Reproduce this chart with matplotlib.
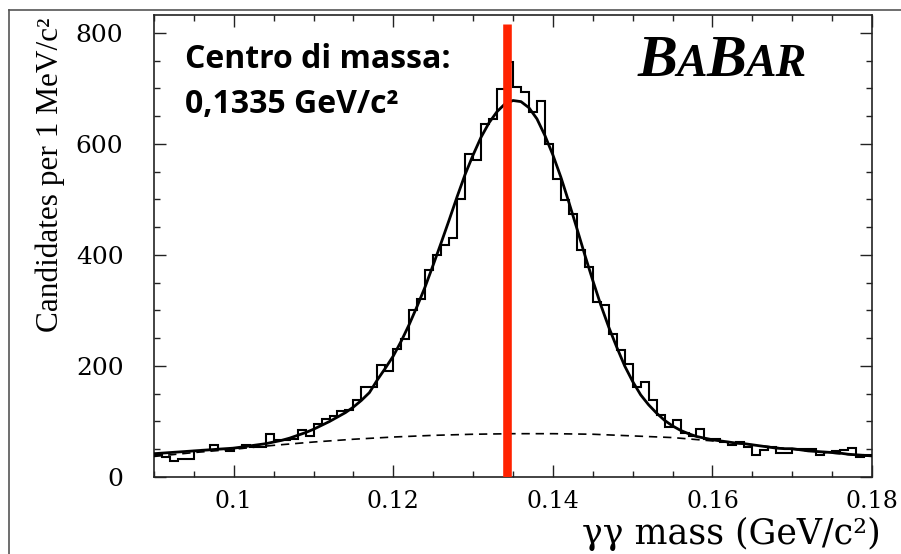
import numpy as np
import matplotlib
matplotlib.use("Agg")
import matplotlib.pyplot as plt
from matplotlib.lines import Line2D
from matplotlib.ticker import MultipleLocator, FixedLocator, FixedFormatter

# ---------------- data ----------------
mass_lo = 0.090          # GeV/c^2, first bin edge
bin_width = 0.001        # 1 MeV bins
counts = [40, 36, 28, 33, 33, 46, 48, 57, 50, 46,
          52, 58, 54, 54, 78, 66, 66, 69, 84, 74,
          96, 104, 110, 119, 120, 138, 162, 162, 202, 190,
          231, 249, 301, 321, 372, 399, 417, 430, 501, 582,
          570, 636, 645, 699, 748, 702, 694, 657, 678, 600,
          536, 498, 474, 408, 378, 315, 309, 258, 228, 204,
          162, 171, 138, 111, 90, 102, 80, 73, 87, 68,
          68, 63, 57, 63, 54, 40, 48, 54, 44, 44,
          51, 50, 50, 40, 45, 46, 48, 52, 36, 39]

# total fit curve, sampled every 1 MeV from 0.090 to 0.180
fit_vals = [42, 43, 44, 45, 46, 47, 48, 49, 50, 51,
            52, 54, 56, 58, 60, 63, 66, 70, 75, 80,
            86, 93, 100, 108, 116, 126, 138, 152, 175, 196,
            218, 245, 275, 308, 343, 382, 422, 463, 505, 545,
            580, 612, 638, 658, 672, 678, 676, 665, 645, 615,
            580, 540, 495, 448, 400, 354, 310, 270, 234, 200,
            172, 148, 130, 115, 102, 92, 84, 78, 73, 70,
            67, 65, 63, 61, 60, 58, 56, 54, 52, 51,
            51, 49, 47, 46, 45, 44, 43, 41, 40, 39, 38]

# background (dashed) curve, sampled every 5 MeV
bkg_x = [0.090, 0.095, 0.100, 0.105, 0.110, 0.115, 0.120, 0.125, 0.130, 0.135,
         0.140, 0.145, 0.150, 0.155, 0.160, 0.165, 0.170, 0.175, 0.180]
bkg_vals = [37, 44, 50, 57, 63, 68, 72, 75, 77, 78,
            78, 77, 74, 71, 65, 58, 50, 43, 37]

marker_mass = 0.1343     # where the red marker line is drawn
x_tick_vals = [0.10, 0.12, 0.14, 0.16, 0.18]
x_tick_labels = ["0.1", "0.12", "0.14", "0.16", "0.18"]
y_tick_vals = [0, 200, 400, 600, 800]
y_tick_labels = ["0", "200", "400", "600", "800"]

edges = mass_lo + bin_width * np.arange(len(counts) + 1)
fit_x = mass_lo + bin_width * np.arange(len(fit_vals))

# ---------------- figure ----------------
W, H = 901, 554
fig = plt.figure(figsize=(W / 100, H / 100), dpi=100)
fig.patch.set_facecolor("white")

L, R, T, B = 154, 872, 15, 477
ax = fig.add_axes([L / W, 1 - B / H, (R - L) / W, (B - T) / H])

ax.stairs(counts, edges, color="black", lw=1.5, baseline=None, zorder=3)
ax.plot(fit_x, fit_vals, color="black", lw=2.0, zorder=4)
ax.plot(bkg_x, bkg_vals, color="black", lw=1.2, ls=(0, (5, 3.5)), zorder=3)
ax.vlines(marker_mass, 0, 816, color="#ff2200", lw=6.2, zorder=6)

ax.set_xlim(0.090, 0.180)
ax.set_ylim(0, 832)

ax.xaxis.set_major_locator(FixedLocator(x_tick_vals))
ax.xaxis.set_major_formatter(FixedFormatter(x_tick_labels))
ax.xaxis.set_minor_locator(MultipleLocator(0.005))
ax.yaxis.set_major_locator(FixedLocator(y_tick_vals))
ax.yaxis.set_major_formatter(FixedFormatter(y_tick_labels))
ax.yaxis.set_minor_locator(MultipleLocator(50))

ax.tick_params(which="both", direction="in", top=True, right=True,
               color="#222222", width=1.0)
ax.tick_params(which="major", length=8.6)
ax.tick_params(which="minor", length=4.3)
ax.tick_params(axis="x", which="major", pad=9)
ax.tick_params(axis="y", which="major", pad=22)
for lab in ax.get_xticklabels() + ax.get_yticklabels():
    lab.set_family("DejaVu Serif")
    lab.set_fontsize(18)
for lab in ax.get_xticklabels():
    lab.set_fontsize(17)

for sp in ax.spines.values():
    sp.set_linewidth(1.2)
    sp.set_color("#222222")

# axis titles
fig.text(881 / W, 1 - 544 / H, "γγ mass (GeV/c²)", ha="right", va="baseline",
         family="DejaVu Serif", fontsize=25)
fig.text(50 / W, 1 - 18 / H, "Candidates per 1 MeV/c²", rotation=90,
         ha="center", va="top", family="Liberation Serif", fontsize=22.5)

# annotation
fig.text(185 / W, 1 - 68 / H, "Centro di massa:", family="Open Sans",
         weight="bold", fontsize=23, va="baseline", ha="left")
fig.text(185 / W, 1 - 113 / H, "0,1335 GeV/c²", family="Open Sans",
         weight="bold", fontsize=23, va="baseline", ha="left")

# outer frame (left and top edges visible)
fig.add_artist(Line2D([9 / W, 9 / W], [0, 1 - 10 / H], transform=fig.transFigure,
                      color="#555555", lw=1.2))
fig.add_artist(Line2D([9 / W, 1], [1 - 10 / H, 1 - 10 / H], transform=fig.transFigure,
                      color="#555555", lw=1.2))

# BaBar logo
fig.canvas.draw()
rend = fig.canvas.get_renderer()
xpos = 638
for s, size in [("B", 43), ("A", 33), ("B", 43), ("AR", 33)]:
    t = fig.text(xpos / W, 1 - 76 / H, s, fontsize=size, family="Liberation Serif",
                 weight="bold", style="italic", va="baseline", ha="left")
    bb = t.get_window_extent(renderer=rend)
    xpos += bb.width - 1

fig.savefig("out.png", dpi=100, facecolor="white")
